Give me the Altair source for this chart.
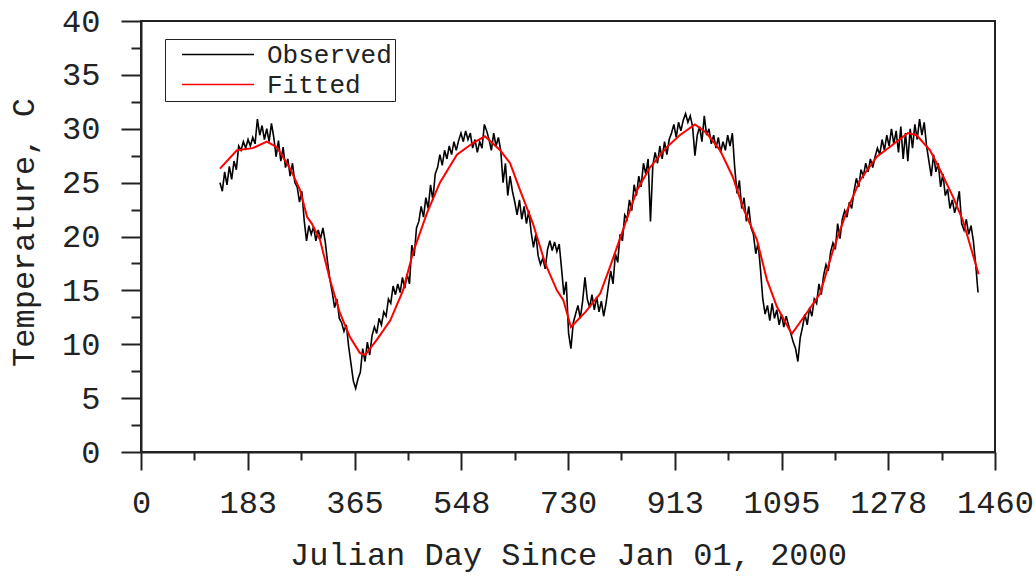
import altair as alt
import pandas as pd

# Daily water temperature record, sampled every 4 days starting on day 135
obs_start_day = 135
obs_step = 4
observed_temp = [
    25.0, 24.2, 26.0, 24.8, 26.5, 25.3, 27.0, 26.2, 28.4, 28.0,   # 135-171
    28.8, 28.2, 29.0, 28.4, 29.2, 28.6, 30.9, 29.4, 30.3, 29.0,   # 175-211
    30.0, 28.8, 30.5, 29.2, 27.4, 28.9, 27.0, 28.3, 26.4, 27.2,   # 215-251
    25.6, 26.8, 25.0, 24.6, 23.2, 24.2, 21.5, 19.6, 21.0, 20.2,   # 255-291
    20.9, 19.6, 20.6, 19.8, 20.8, 19.5, 17.6, 16.0, 14.8, 13.4,   # 295-331
    14.2, 12.4, 12.0, 11.2, 11.8, 9.8, 8.2, 6.6, 5.9, 6.8,        # 335-371
    7.4, 9.6, 8.4, 10.2, 9.0, 10.8, 11.6, 11.0, 12.4, 11.8,       # 375-411
    13.0, 12.6, 14.2, 13.8, 15.4, 14.6, 15.6, 14.8, 16.2, 15.2,   # 415-451
    16.5, 15.6, 19.2, 18.2, 20.8, 21.4, 22.8, 21.8, 23.6, 22.6,   # 455-491
    24.8, 23.4, 25.8, 26.4, 27.6, 26.6, 28.0, 27.2, 28.4, 27.6,   # 495-531
    28.8, 28.0, 28.9, 29.6, 28.8, 29.8, 29.0, 29.6, 28.2, 29.0,   # 535-571
    27.8, 28.8, 28.2, 30.4, 29.8, 29.0, 28.0, 29.6, 28.4, 29.2,   # 575-611
    28.0, 25.0, 26.8, 23.8, 25.6, 24.2, 23.2, 22.0, 23.4, 21.6,   # 615-651
    22.8, 21.2, 22.4, 20.4, 19.0, 20.2, 18.2, 17.4, 18.0, 17.0,   # 655-691
    18.8, 19.6, 18.7, 19.5, 18.6, 19.3, 17.0, 14.6, 15.8, 11.0,   # 695-731
    9.6, 12.0, 12.8, 13.6, 12.4, 14.0, 16.2, 14.2, 13.4, 14.6,    # 735-771
    13.2, 14.4, 13.0, 14.0, 12.6, 13.8, 15.4, 16.8, 15.6, 18.4,   # 775-811
    17.6, 20.2, 19.6, 22.0, 21.6, 23.4, 22.4, 24.8, 23.8, 25.6,   # 815-851
    24.6, 26.8, 25.8, 27.2, 21.4, 26.6, 27.8, 26.8, 28.4, 27.2,   # 855-891
    28.8, 27.6, 29.0, 29.6, 30.4, 29.2, 30.6, 29.8, 30.8, 31.4,   # 895-931
    30.6, 31.2, 30.2, 27.5, 29.4, 30.2, 28.8, 31.2, 29.4, 30.0,   # 935-971
    28.6, 29.4, 28.2, 29.2, 27.8, 28.8, 28.0, 29.4, 28.4, 29.6,   # 975-1011
    26.4, 24.0, 25.2, 22.6, 23.6, 21.4, 22.8, 20.8, 20.2, 18.4,   # 1015-1051
    19.4, 17.0, 14.2, 12.8, 13.6, 12.2, 13.8, 12.4, 13.2, 11.8,   # 1055-1091
    12.8, 11.6, 12.6, 11.8, 11.0, 10.2, 9.6, 8.4, 10.6, 11.6,     # 1095-1131
    12.8, 11.8, 13.4, 12.6, 14.2, 13.8, 15.6, 14.6, 16.4, 17.4,   # 1135-1171
    16.8, 18.6, 19.4, 18.8, 21.2, 19.8, 21.6, 22.4, 21.8, 23.2,   # 1175-1211
    22.6, 24.2, 25.4, 24.6, 26.2, 25.6, 26.8, 26.0, 27.2, 26.4,   # 1215-1251
    27.4, 28.2, 27.6, 29.0, 28.0, 29.4, 28.4, 30.0, 28.6, 29.8,   # 1255-1291
    27.8, 30.2, 27.2, 29.6, 27.0, 30.0, 28.2, 30.4, 29.0, 30.9,   # 1295-1331
    29.4, 30.6, 28.4, 27.0, 25.6, 27.6, 26.0, 26.8, 24.6, 25.8,   # 1335-1371
    23.8, 24.4, 22.6, 23.4, 22.2, 23.0, 24.2, 21.2, 20.6, 21.6,   # 1375-1411
    20.2, 21.0, 19.6, 17.4, 14.8,                                 # 1415-1431
]
observed_day = [obs_start_day + obs_step * i for i in range(len(observed_temp))]

# Fitted seasonal curve
fitted_day = [
    135, 164, 191, 215, 232, 255, 272, 284, 292, 306, 323, 340, 357, 374, 383,
    403, 426, 448, 465, 489, 511, 540, 568, 588, 614, 631, 648, 670, 691, 711,
    722, 735, 760, 785, 802, 824, 848, 870, 899, 921, 947, 967, 990, 1012, 1029,
    1053, 1070, 1087, 1109, 1113, 1138, 1161, 1183, 1207, 1229, 1258, 1280, 1311,
    1326, 1349, 1366, 1388, 1405, 1432,
]
fitted_temp = [
    26.3, 28.0, 28.2, 28.8, 28.3, 26.3, 24.3, 21.8, 21.2, 19.7, 16.0, 12.9, 10.7, 9.2, 9.0,
    10.4, 12.2, 15.0, 18.5, 22.2, 25.0, 27.6, 28.7, 29.3, 28.0, 26.8, 24.3, 21.2, 17.5, 15.0,
    14.1, 11.6, 13.0, 14.7, 17.2, 20.6, 24.3, 26.4, 28.3, 29.4, 30.4, 29.6, 28.0, 25.5, 22.7,
    19.7, 16.0, 13.5, 11.3, 11.0, 12.9, 14.7, 18.7, 22.4, 25.2, 27.4, 28.3, 29.6,
    29.4, 28.0, 26.2, 23.7, 21.5, 16.5,
]

series_names = ["Observed", "Fitted"]
series_colors = ["#000000", "#ff0000"]

# Axis tick positions: majors every half year (labels rounded), minors in between
x_ticks = [91.25 * i for i in range(17)]
y_ticks = [2.5 * i for i in range(17)]

obs_df = pd.DataFrame({"day": observed_day, "temp": observed_temp, "series": "Observed"})
fit_df = pd.DataFrame({"day": fitted_day, "temp": fitted_temp, "series": "Fitted"})

FONT = "Liberation Mono"
INK = "#222222"

x_enc = alt.X(
    "day:Q",
    scale=alt.Scale(domain=[0, 1460], nice=False, zero=False),
    axis=alt.Axis(
        title="Julian Day Since Jan 01, 2000",
        values=x_ticks,
        labelExpr="datum.value % 182.5 === 0 ? '' + round(datum.value) : ''",
        tickSize={"condition": {"test": "datum.value % 182.5 === 0", "value": 18}, "value": 8},
        labelPadding=17,
        labelFlush=False,
        labelOverlap=False,
        titleX=427,
        titleY=112,
        titleBaseline="alphabetic",
        titleAlign="center",
    ),
)
y_enc = alt.Y(
    "temp:Q",
    scale=alt.Scale(domain=[0, 40], nice=False, zero=False),
    axis=alt.Axis(
        title="Temperature, C",
        values=y_ticks,
        labelExpr="datum.value % 5 === 0 ? '' + datum.value : ''",
        tickSize={"condition": {"test": "datum.value % 5 === 0", "value": 20}, "value": 10},
        labelPadding=21,
        labelOverlap=False,
        titleX=-108,
        titleY=211,
        titleAngle=270,
        titleBaseline="alphabetic",
        titleAlign="center",
    ),
)
color_enc = alt.Color(
    "series:N",
    scale=alt.Scale(domain=series_names, range=series_colors),
    legend=alt.Legend(title=None),
)

observed_line = alt.Chart(obs_df).mark_line(strokeWidth=1.6, interpolate="linear").encode(
    x=x_enc, y=y_enc, color=color_enc, order="day:Q"
)
fitted_line = alt.Chart(fit_df).mark_line(strokeWidth=2, interpolate="linear").encode(
    x=x_enc, y=y_enc, color=color_enc, order="day:Q"
)

chart = (
    alt.layer(observed_line, fitted_line)
    .properties(
        width=854,
        height=431,
        autosize=alt.AutoSizeParams(type="none"),
        padding={"left": 141, "top": 21, "right": 40, "bottom": 125},
        background="white",
    )
    .configure_view(stroke=INK, strokeWidth=2)
    .configure_axis(
        grid=False,
        domainColor=INK,
        domainWidth=2,
        tickColor=INK,
        tickWidth=2,
        labelFont=FONT,
        labelFontSize=32,
        labelColor=INK,
        titleFont=FONT,
        titleFontSize=32,
        titleFontWeight="normal",
        titleColor=INK,
    )
    .configure_legend(
        orient="none",
        legendX=24,
        legendY=18,
        strokeColor=INK,
        fillColor="white",
        padding=3,
        symbolType="stroke",
        symbolSize=5184,
        symbolStrokeWidth=1.5,
        symbolOffset=13,
        clipHeight=25,
        rowPadding=3,
        labelFont=FONT,
        labelFontSize=26,
        labelColor=INK,
        labelOffset=12,
    )
)

chart.save("out.html", embed_options={"renderer": "svg", "actions": False})
